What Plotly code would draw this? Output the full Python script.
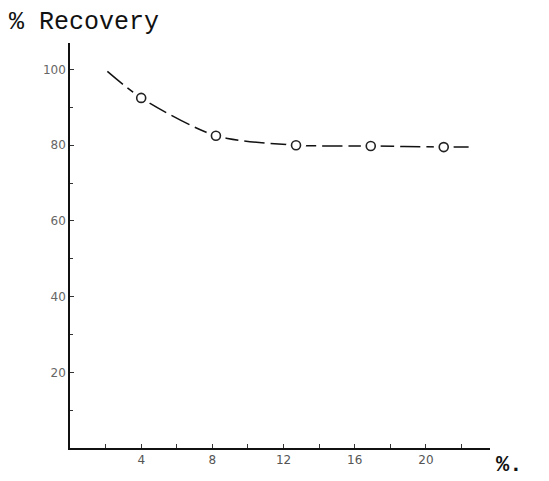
import plotly.graph_objects as go

# data
x_line = [2.1, 4.0, 8.2, 12.7, 16.9, 21.0, 22.4]
y_line = [99.5, 92.5, 82.5, 80.0, 79.8, 79.5, 79.5]
x_pts = [4.0, 8.2, 12.7, 16.9, 21.0]
y_pts = [92.5, 82.5, 80.0, 79.8, 79.5]
x_ticks = [4, 8, 12, 16, 20]
x_labels = ["4", "8", "12", "16", "20"]
y_ticks = [20, 40, 60, 80, 100]
y_labels = ["20", "40", "60", "80", "100"]

fig = go.Figure()
fig.add_trace(go.Scatter(x=x_line, y=y_line, mode="lines",
                         line=dict(color="#111", width=1.5, shape="spline", smoothing=0.8,
                                   dash="20px,6px"),
                         hoverinfo="skip"))
# white halos to leave gaps around the circles
fig.add_trace(go.Scatter(x=x_pts, y=y_pts, mode="markers",
                         marker=dict(symbol="circle", size=20, color="white", line=dict(width=0)),
                         hoverinfo="skip"))
fig.add_trace(go.Scatter(x=x_pts, y=y_pts, mode="markers",
                         marker=dict(symbol="circle-open", size=9, color="#222", line=dict(width=1.6))))

fig.update_layout(
    width=549, height=481,
    margin=dict(l=70, r=59, t=43, b=33),
    paper_bgcolor="white", plot_bgcolor="white",
    showlegend=False,
    font=dict(family="DejaVu Sans", color="#555"),
    xaxis=dict(range=[0, 23.6], showgrid=False, zeroline=False,
               showline=True, linecolor="#111", linewidth=1.6,
               tickvals=x_ticks, ticktext=x_labels, ticks="inside", ticklen=4,
               tickcolor="#333", tickfont=dict(size=12, color="#555"),
               minor=dict(dtick=2, tick0=0, ticks="inside", ticklen=4, tickcolor="#333")),
    yaxis=dict(range=[0, 107], showgrid=False, zeroline=False,
               showline=True, linecolor="#111", linewidth=1.6,
               tickvals=y_ticks, ticktext=y_labels, ticks="inside", ticklen=4,
               tickcolor="#333", tickfont=dict(size=12, color="#666"),
               minor=dict(dtick=10, tick0=0, ticks="inside", ticklen=3, tickcolor="#333")),
    annotations=[
        dict(text="% Recovery", xref="paper", yref="paper", x=-0.15, y=1.0, yshift=4,
             xanchor="left", yanchor="bottom", showarrow=False,
             font=dict(family="Liberation Mono", size=25, color="#111")),
        dict(text="<b>%.</b>", xref="paper", yref="paper", x=1.0, y=0, xshift=4, yshift=-3,
             xanchor="left", yanchor="top", showarrow=False,
             font=dict(family="Liberation Mono", size=22, color="#111")),
    ],
)

fig.write_html("out.html")
